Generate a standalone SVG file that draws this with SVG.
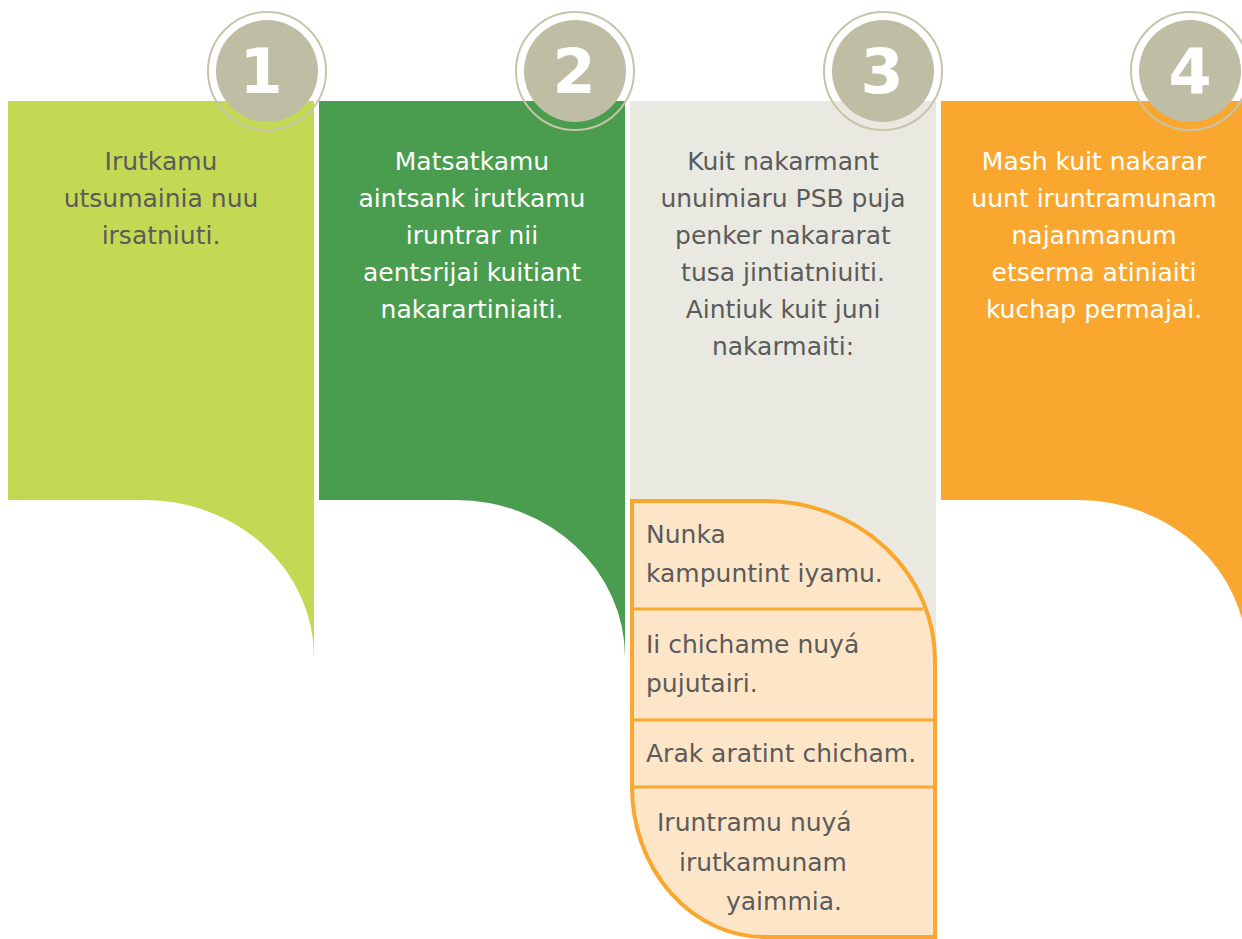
<svg xmlns="http://www.w3.org/2000/svg" width="1242" height="939" viewBox="0 0 1242 939">
<style>
.t{font-family:"DejaVu Sans","Open Sans",sans-serif;font-size:25px;text-anchor:middle}
.tl{font-family:"DejaVu Sans","Open Sans",sans-serif;font-size:25px;fill:#5b5b5b}
.g{fill:#5b5b5b}
.w{fill:#ffffff}
.ring{fill:none;stroke:#c6c4ab;stroke-width:2}
.disc{fill:#bfbea4}
.num{font-family:"DejaVu Sans","Open Sans",sans-serif;font-weight:bold;font-size:62px;fill:#ffffff;text-anchor:middle}
.div{stroke:#f9a72f;stroke-width:3}
</style>
<rect width="1242" height="939" fill="#ffffff"/>
<g id="panel1">
<path d="M8,101 H314 V657 A169,157 0 0 0 145,500 H8 Z" fill="#c3d953"/>
<text class="t g" x="161" y="170">Irutkamu</text>
<text class="t g" x="161" y="207">utsumainia nuu</text>
<text class="t g" x="161" y="244">irsatniuti.</text>
</g>
<g id="panel2">
<path d="M319,101 H625 V657 A169,157 0 0 0 456,500 H319 Z" fill="#4a9c4e"/>
<text class="t w" x="472" y="170">Matsatkamu</text>
<text class="t w" x="472" y="207">aintsank irutkamu</text>
<text class="t w" x="472" y="244">iruntrar nii</text>
<text class="t w" x="472" y="281">aentsrijai kuitiant</text>
<text class="t w" x="472" y="318">nakarartiniaiti.</text>
</g>
<g id="panel3">
<rect x="630" y="101" width="306" height="580" fill="#e9e9e1"/>
<text class="t g" x="783" y="170">Kuit nakarmant</text>
<text class="t g" x="783" y="207">unuimiaru PSB puja</text>
<text class="t g" x="783" y="244">penker nakararat</text>
<text class="t g" x="783" y="281">tusa jintiatniuiti.</text>
<text class="t g" x="783" y="318">Aintiuk kuit juni</text>
<text class="t g" x="783" y="355">nakarmaiti:</text>
</g>
<g id="panel4">
<path d="M941,101 H1247 V657 A169,157 0 0 0 1078,500 H941 Z" fill="#f9a72f"/>
<text class="t w" x="1094" y="170">Mash kuit nakarar</text>
<text class="t w" x="1094" y="207">uunt iruntramunam</text>
<text class="t w" x="1094" y="244">najanmanum</text>
<text class="t w" x="1094" y="281">etserma atiniaiti</text>
<text class="t w" x="1094" y="318">kuchap permajai.</text>
</g>
<g id="list">
<path d="M632,501 H765 A170,159 0 0 1 935,660 V937 H765 A133,150 0 0 1 632,787 Z" fill="#fde6c8" stroke="#f9a72f" stroke-width="4"/>
<line class="div" x1="632" y1="609" x2="923" y2="609"/>
<line class="div" x1="632" y1="720" x2="935" y2="720"/>
<line class="div" x1="632" y1="787" x2="935" y2="787"/>
<text class="tl" x="646" y="543">Nunka</text>
<text class="tl" x="646" y="582">kampuntint iyamu.</text>
<text class="tl" x="646" y="653">Ii chichame nuyá</text>
<text class="tl" x="646" y="692">pujutairi.</text>
<text class="tl" x="646" y="762">Arak aratint chicham.</text>
<text class="tl" x="657" y="831">Iruntramu nuyá</text>
<text class="tl" x="679" y="871">irutkamunam</text>
<text class="tl" x="726" y="910">yaimmia.</text>
</g>
<g id="badge1"><circle class="ring" cx="267" cy="71" r="59"/><circle class="disc" cx="267" cy="71" r="51"/><text class="num" x="261" y="93">1</text></g>
<g id="badge2"><circle class="ring" cx="575" cy="71" r="59"/><circle class="disc" cx="575" cy="71" r="51"/><text class="num" x="574" y="93">2</text></g>
<g id="badge3"><circle class="ring" cx="883" cy="71" r="59"/><circle class="disc" cx="883" cy="71" r="51"/><text class="num" x="882" y="93">3</text></g>
<g id="badge4"><circle class="ring" cx="1190" cy="71" r="59"/><circle class="disc" cx="1190" cy="71" r="51"/><text class="num" x="1190" y="93">4</text></g>
</svg>
